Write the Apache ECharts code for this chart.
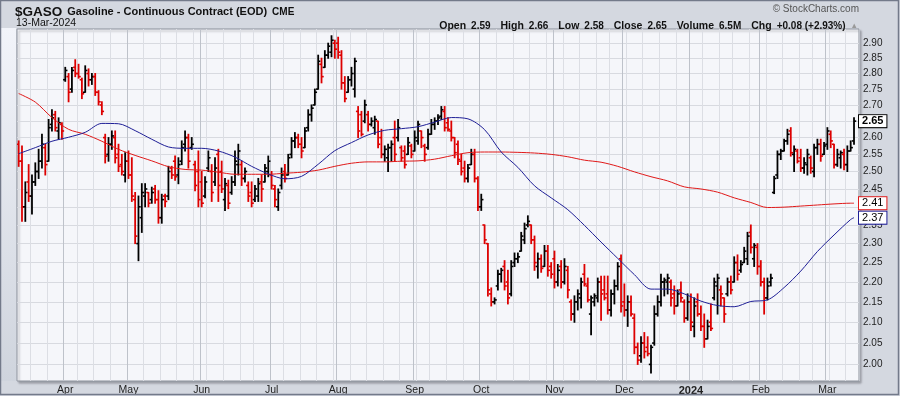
<!DOCTYPE html>
<html><head><meta charset="utf-8">
<script src="https://cdn.jsdelivr.net/npm/echarts@6/dist/echarts.min.js"></script>
<style>html,body{margin:0;padding:0;background:#d4d8e0;}#chart{width:900px;height:396px;}</style>
</head><body><div id="chart"></div>
<script>
// ---------- data ----------
const startDate = '2023-03-14', endDate = '2024-03-13';
const holidays = ['2023-04-07','2023-05-29','2023-06-19','2023-07-04','2023-09-04','2023-11-23','2023-12-25','2024-01-01','2024-01-15','2024-02-19'];

const opens = [2.58,2.53,2.40,2.47,2.43,2.47,2.50,2.53,2.57,2.53,
2.64,2.67,2.62,2.64,2.78,2.79,2.75,2.82,2.80,2.78,
2.74,2.80,2.78,2.79,2.74,2.70,2.60,2.55,2.58,2.60,
2.55,2.52,2.49,2.53,2.49,2.42,2.30,2.37,2.43,2.44,
2.42,2.45,2.42,2.37,2.43,2.43,2.51,2.53,2.49,2.53,
2.58,2.60,2.57,2.52,2.50,2.47,2.43,2.51,2.50,2.47,
2.55,2.50,2.42,2.46,2.44,2.47,2.52,2.52,2.48,2.46,
2.44,2.42,2.43,2.47,2.47,2.50,2.49,2.45,2.40,2.46,
2.50,2.49,2.55,2.59,2.60,2.58,2.57,2.63,2.67,2.70,
2.75,2.83,2.82,2.86,2.87,2.90,2.90,2.86,2.77,2.74,
2.78,2.75,2.68,2.67,2.65,2.67,2.64,2.63,2.65,2.60,
2.55,2.54,2.57,2.60,2.60,2.57,2.56,2.55,2.575,2.56,
2.59,2.62,2.575,2.57,2.61,2.64,2.65,2.665,2.68,2.645,
2.62,2.60,2.58,2.53,2.51,2.48,2.52,2.55,2.48,2.40,
2.35,2.30,2.17,2.15,2.19,2.22,2.24,2.20,2.17,2.25,
2.26,2.28,2.31,2.35,2.35,2.31,2.24,2.26,2.24,2.28,
2.24,2.26,2.20,2.24,2.20,2.23,2.15,2.12,2.15,2.16,
2.22,2.19,2.12,2.15,2.16,2.20,2.18,2.17,2.13,2.17,
2.19,2.26,2.15,2.13,2.15,2.11,2.04,2.02,2.05,2.04,
2.00,2.05,2.12,2.15,2.20,2.20,2.20,2.17,2.14,2.18,
2.15,2.11,2.15,2.09,2.15,2.12,2.09,2.06,2.10,2.16,
2.19,2.18,2.16,2.17,2.20,2.20,2.25,2.23,2.25,2.26,
2.33,2.26,2.29,2.24,2.20,2.16,2.20,2.44,2.49,2.55,
2.56,2.59,2.62,2.55,2.56,2.54,2.51,2.52,2.54,2.50,
2.57,2.58,2.55,2.58,2.61,2.58,2.52,2.54,2.55,2.52,
2.56,2.59];

const highs = [2.59,2.575,2.47,2.52,2.49,2.525,2.565,2.61,2.58,2.655,
2.685,2.68,2.66,2.645,2.82,2.80,2.82,2.845,2.83,2.785,
2.825,2.815,2.80,2.80,2.745,2.71,2.61,2.60,2.62,2.62,
2.58,2.55,2.555,2.56,2.54,2.44,2.43,2.465,2.465,2.44,
2.455,2.46,2.445,2.435,2.435,2.515,2.515,2.545,2.54,2.59,
2.62,2.61,2.60,2.53,2.56,2.50,2.485,2.56,2.52,2.54,
2.565,2.53,2.48,2.475,2.485,2.56,2.58,2.53,2.51,2.47,
2.47,2.46,2.48,2.49,2.52,2.545,2.50,2.46,2.45,2.51,
2.52,2.55,2.60,2.615,2.61,2.60,2.63,2.685,2.70,2.75,
2.86,2.85,2.875,2.90,2.925,2.91,2.92,2.875,2.79,2.79,
2.82,2.85,2.695,2.68,2.715,2.68,2.66,2.665,2.65,2.625,
2.575,2.58,2.59,2.65,2.655,2.575,2.575,2.60,2.58,2.62,
2.65,2.62,2.58,2.625,2.655,2.66,2.67,2.695,2.695,2.66,
2.65,2.60,2.59,2.55,2.53,2.52,2.565,2.565,2.485,2.435,
2.35,2.30,2.185,2.16,2.23,2.235,2.255,2.23,2.255,2.275,
2.275,2.33,2.355,2.375,2.35,2.32,2.275,2.27,2.295,2.295,
2.25,2.28,2.245,2.255,2.26,2.24,2.155,2.165,2.18,2.21,
2.245,2.21,2.165,2.17,2.21,2.215,2.215,2.215,2.18,2.205,
2.25,2.27,2.195,2.165,2.165,2.12,2.05,2.065,2.075,2.065,
2.045,2.14,2.165,2.22,2.21,2.22,2.205,2.19,2.18,2.20,
2.155,2.17,2.17,2.16,2.17,2.14,2.12,2.105,2.145,2.21,
2.22,2.19,2.16,2.21,2.215,2.265,2.27,2.255,2.29,2.33,
2.35,2.30,2.30,2.255,2.21,2.21,2.22,2.486,2.56,2.565,
2.595,2.625,2.63,2.575,2.565,2.565,2.54,2.565,2.545,2.58,
2.595,2.595,2.585,2.63,2.62,2.58,2.565,2.56,2.565,2.575,
2.59,2.66];

const lows = [2.515,2.36,2.36,2.415,2.38,2.46,2.48,2.51,2.49,2.53,
2.62,2.62,2.595,2.595,2.775,2.71,2.74,2.79,2.785,2.72,
2.74,2.76,2.765,2.73,2.70,2.67,2.525,2.53,2.565,2.525,
2.50,2.49,2.47,2.48,2.415,2.30,2.255,2.33,2.40,2.40,
2.41,2.41,2.355,2.355,2.40,2.42,2.48,2.475,2.465,2.52,
2.56,2.51,2.565,2.445,2.40,2.40,2.425,2.50,2.415,2.46,
2.415,2.44,2.39,2.395,2.435,2.46,2.49,2.46,2.47,2.415,
2.40,2.415,2.415,2.415,2.47,2.485,2.45,2.40,2.39,2.45,
2.47,2.49,2.54,2.57,2.57,2.54,2.57,2.62,2.65,2.70,
2.75,2.77,2.82,2.85,2.855,2.85,2.85,2.75,2.71,2.74,
2.76,2.725,2.60,2.605,2.645,2.62,2.635,2.61,2.57,2.54,
2.53,2.50,2.53,2.53,2.59,2.53,2.51,2.55,2.54,2.56,
2.58,2.57,2.53,2.565,2.61,2.625,2.64,2.655,2.62,2.62,
2.59,2.54,2.52,2.49,2.47,2.47,2.52,2.47,2.39,2.39,
2.30,2.165,2.14,2.145,2.18,2.20,2.18,2.145,2.165,2.24,
2.25,2.28,2.30,2.345,2.30,2.23,2.21,2.225,2.24,2.215,
2.21,2.185,2.19,2.185,2.195,2.16,2.105,2.10,2.13,2.135,
2.19,2.15,2.07,2.14,2.15,2.105,2.155,2.12,2.115,2.145,
2.18,2.125,2.115,2.09,2.115,2.025,2.00,2.005,2.015,2.02,
1.98,2.045,2.115,2.14,2.165,2.17,2.14,2.12,2.14,2.15,
2.10,2.105,2.08,2.065,2.115,2.08,2.04,2.06,2.08,2.155,
2.12,2.14,2.10,2.165,2.17,2.20,2.205,2.225,2.25,2.245,
2.275,2.24,2.22,2.19,2.12,2.155,2.19,2.437,2.48,2.535,
2.56,2.58,2.545,2.50,2.525,2.50,2.495,2.49,2.495,2.485,
2.55,2.53,2.55,2.565,2.57,2.51,2.515,2.51,2.505,2.50,
2.56,2.58];

const closes = [2.53,2.40,2.44,2.43,2.47,2.50,2.53,2.58,2.52,2.63,
2.66,2.63,2.645,2.62,2.81,2.74,2.81,2.80,2.79,2.735,
2.81,2.78,2.79,2.74,2.71,2.68,2.545,2.58,2.605,2.54,
2.515,2.50,2.53,2.49,2.43,2.32,2.40,2.44,2.45,2.41,
2.44,2.42,2.37,2.42,2.415,2.50,2.49,2.485,2.52,2.57,
2.60,2.53,2.58,2.46,2.42,2.41,2.47,2.54,2.44,2.51,
2.46,2.45,2.465,2.41,2.47,2.53,2.56,2.48,2.50,2.43,
2.41,2.45,2.465,2.45,2.51,2.53,2.46,2.42,2.44,2.49,
2.48,2.54,2.59,2.60,2.58,2.56,2.62,2.67,2.69,2.74,
2.84,2.79,2.86,2.89,2.91,2.88,2.87,2.77,2.72,2.78,
2.80,2.84,2.62,2.61,2.70,2.64,2.65,2.655,2.58,2.55,
2.565,2.57,2.58,2.55,2.63,2.54,2.52,2.585,2.55,2.60,
2.64,2.60,2.55,2.61,2.64,2.65,2.66,2.685,2.63,2.625,
2.60,2.555,2.535,2.50,2.48,2.51,2.55,2.48,2.40,2.42,
2.31,2.18,2.15,2.155,2.22,2.23,2.19,2.16,2.24,2.26,
2.265,2.32,2.34,2.36,2.31,2.25,2.26,2.235,2.28,2.23,
2.22,2.20,2.23,2.20,2.24,2.18,2.12,2.15,2.17,2.20,
2.195,2.155,2.16,2.165,2.20,2.17,2.16,2.13,2.17,2.19,
2.24,2.14,2.13,2.15,2.12,2.04,2.01,2.05,2.03,2.025,
2.04,2.12,2.15,2.20,2.205,2.21,2.16,2.14,2.17,2.16,
2.11,2.15,2.10,2.14,2.12,2.09,2.06,2.09,2.085,2.20,
2.21,2.17,2.12,2.20,2.18,2.25,2.22,2.245,2.28,2.32,
2.29,2.295,2.24,2.20,2.16,2.19,2.21,2.48,2.55,2.56,
2.59,2.61,2.555,2.565,2.53,2.51,2.525,2.55,2.51,2.57,
2.58,2.545,2.575,2.62,2.59,2.52,2.55,2.555,2.52,2.56,
2.57,2.65];

// moving averages read every 5th bar (bar 0,5,...,250) plus the last bar
const maSampleIdx = [0,5,10,15,20,25,30,35,40,45,50,55,60,65,70,75,80,85,90,95,100,105,110,115,120,125,130,135,140,145,150,155,160,165,170,175,180,185,190,195,200,205,210,215,220,225,230,235,240,245,250,251];
const ma50 = [2.552,2.570,2.589,2.601,2.616,2.643,2.642,2.621,2.595,2.572,2.568,2.568,2.560,2.542,2.515,2.493,2.479,2.486,2.521,2.561,2.585,2.608,2.622,2.627,2.633,2.647,2.661,2.657,2.624,2.557,2.512,2.459,2.425,2.392,2.349,2.304,2.261,2.219,2.182,2.182,2.170,2.152,2.141,2.138,2.151,2.155,2.186,2.228,2.279,2.323,2.365,2.370];
const ma200 = [2.736,2.709,2.661,2.625,2.610,2.589,2.565,2.547,2.531,2.514,2.506,2.504,2.498,2.492,2.492,2.492,2.495,2.498,2.504,2.515,2.524,2.528,2.528,2.530,2.531,2.536,2.546,2.555,2.557,2.557,2.556,2.554,2.550,2.543,2.533,2.527,2.515,2.499,2.485,2.473,2.456,2.450,2.441,2.425,2.412,2.398,2.399,2.402,2.405,2.408,2.410,2.410];

const yTicks = [2.00,2.05,2.10,2.15,2.20,2.25,2.30,2.35,2.40,2.45,2.50,2.55,2.60,2.65,2.70,2.75,2.80,2.85,2.90];
const monthNames = ['Jan','Feb','Mar','Apr','May','Jun','Jul','Aug','Sep','Oct','Nov','Dec'];
const headerStats = [['Open','2.59'],['High','2.66'],['Low','2.58'],['Close','2.65'],['Volume','6.5M'],['Chg','+0.08 (+2.93%)']];

// ---------- build ----------
function tradingDays(s, e, hol) {
  const out = [];
  const d = new Date(s + 'T00:00:00Z'), end = new Date(e + 'T00:00:00Z');
  while (d <= end) {
    const wd = d.getUTCDay(), iso = d.toISOString().slice(0, 10);
    if (wd !== 0 && wd !== 6 && hol.indexOf(iso) < 0) out.push(iso);
    d.setUTCDate(d.getUTCDate() + 1);
  }
  return out;
}
const dates = tradingDays(startDate, endDate, holidays);
const N = Math.min(dates.length, closes.length);
const cats = dates.slice(0, N).concat(['']); // one empty slot of right padding
const dow = s => new Date(s + 'T00:00:00Z').getUTCDay();
const monthStart = cats.map((d, i) => i > 0 && d !== '' && d.slice(5, 7) !== cats[i - 1].slice(5, 7));
const weekStart = cats.map((d, i) => i > 0 && d !== '' && dow(d) < dow(cats[i - 1]));

const barColors = [];
for (let i = 0; i < N; i++) {
  const prev = i === 0 ? opens[0] : closes[i - 1];
  barColors.push(closes[i] >= prev ? '#000000' : '#dd0000');
}
const ohlc = [];
for (let i = 0; i < N; i++) ohlc.push([i, opens[i], highs[i], lows[i], closes[i]]);

function sparse(vals) {
  const arr = new Array(N).fill(null);
  maSampleIdx.forEach((idx, k) => { if (idx < N) arr[idx] = vals[k]; });
  return arr;
}

const FONT = 'Liberation Sans, Arial, sans-serif';
let headerText = headerStats.map(p => '{l|' + p[0] + '} {v|' + p[1] + '}').join('  ') + ' {t|▲}';

const chart = echarts.init(document.getElementById('chart'), null, { renderer: 'canvas' });
const tagBase = { show: true, distance: 5, backgroundColor: '#ffffff', borderWidth: 1, padding: [1, 3, 0, 3], fontSize: 11, fontFamily: FONT, color: '#000' };

chart.setOption({
  animation: false,
  backgroundColor: '#d4d8e0',
  textStyle: { fontFamily: FONT },
  title: [
    { left: 15, top: 3, padding: 0, text: '{a|$GASO} {b|Gasoline - Continuous Contract (EOD)} {c|CME}',
      textStyle: { rich: {
        a: { fontFamily: FONT, fontWeight: 'bold', fontSize: 13.5, color: '#111' },
        b: { fontFamily: FONT, fontSize: 11, color: '#111' },
        c: { fontFamily: FONT, fontSize: 10, color: '#111' } } } },
    { left: 16, top: 18, padding: 0, text: '13-Mar-2024', textStyle: { fontFamily: FONT, fontSize: 10.5, fontWeight: 'normal', color: '#111' } },
    { right: 41, top: 4, padding: 0, text: '© StockCharts.com', textStyle: { fontFamily: FONT, fontSize: 10, fontWeight: 'normal', color: '#555' } },
    { right: 42, top: 17, padding: 0, text: headerText,
      textStyle: { rich: {
        l: { fontFamily: FONT, fontWeight: 'bold', fontSize: 10.5, color: '#111' },
        v: { fontFamily: FONT, fontSize: 10, color: '#111' },
        t: { fontFamily: FONT, fontSize: 7.5, color: '#999' } } } }
  ],
  graphic: [
    { type: 'rect', z: -10, shape: { x: 1, y: 28, width: 15, height: 353 },
      style: { fill: new echarts.graphic.LinearGradient(0, 0, 0, 1, [{ offset: 0, color: '#f2f4fa' }, { offset: 1, color: '#cfd4dd' }]) } },
    { type: 'rect', z: 100, shape: { x: 0.5, y: 0.5, width: 898, height: 394 }, style: { fill: 'none', stroke: '#737a8a', lineWidth: 1.5 } }
  ],
  grid: { left: 17, right: 41, top: 29, bottom: 15, show: true, backgroundColor: '#f5f6fa',
    borderColor: '#8d939d', borderWidth: 1, shadowColor: 'rgba(60,60,70,0.35)', shadowBlur: 2, shadowOffsetX: 2, shadowOffsetY: 2 },
  xAxis: [
    { type: 'category', data: cats, boundaryGap: true,
      axisLine: { show: false }, axisTick: { show: false },
      axisLabel: { interval: (i) => monthStart[i], margin: 4, fontSize: 10.5, color: '#222', fontFamily: FONT,
        formatter: (v) => { if (!v) return ''; const m = +v.slice(5, 7); return m === 1 ? '{y|' + v.slice(0, 4) + '}' : monthNames[m - 1]; },
        rich: { y: { fontWeight: 'bold', fontSize: 11, color: '#222', fontFamily: FONT } } },
      splitLine: { show: true, interval: (i) => weekStart[i] && !monthStart[i], lineStyle: { color: '#dcdee4', width: 1 } } },
    { type: 'category', data: cats, boundaryGap: true, position: 'bottom',
      axisLine: { show: false }, axisTick: { show: false }, axisLabel: { show: false },
      splitLine: { show: true, interval: (i) => monthStart[i], lineStyle: { color: '#bec2ca', width: 1 } } }
  ],
  yAxis: {
    type: 'log', logBase: 10, min: 1.962, max: 2.948, position: 'right',
    axisLine: { show: false }, axisTick: { show: false, customValues: yTicks },
    axisLabel: { customValues: yTicks, formatter: (v) => Number(v).toFixed(2), color: '#222', fontSize: 10, margin: 4, fontFamily: FONT },
    splitLine: { show: true, lineStyle: { color: '#d8dae0', width: 1 } }
  },
  series: [
    { type: 'custom', name: 'GASO', xAxisIndex: 0, data: ohlc, encode: { x: 0, y: [1, 2, 3, 4] }, z: 2, clip: true,
      renderItem: function (params, api) {
        const i = api.value(0);
        const pO = api.coord([i, api.value(1)]);
        const pH = api.coord([i, api.value(2)]);
        const pL = api.coord([i, api.value(3)]);
        const pC = api.coord([i, api.value(4)]);
        const col = barColors[i];
        const x = pH[0];
        const t = 2.2;
        return { type: 'group', children: [
          { type: 'line', shape: { x1: x, y1: pH[1] - 0.5, x2: x, y2: pL[1] + 0.5 }, style: { stroke: col, lineWidth: 1.8 } },
          { type: 'line', shape: { x1: x - t, y1: pO[1], x2: x, y2: pO[1] }, style: { stroke: col, lineWidth: 1.6 } },
          { type: 'line', shape: { x1: x, y1: pC[1], x2: x + t, y2: pC[1] }, style: { stroke: col, lineWidth: 1.6 } }
        ] };
      } },
    { type: 'line', name: 'MA200', data: sparse(ma200), connectNulls: true, symbol: 'none', smooth: 0.3, z: 4,
      lineStyle: { color: '#e01818', width: 1 },
      endLabel: Object.assign({}, tagBase, { borderColor: '#e01818', formatter: p => Number(p.value).toFixed(2) }) },
    { type: 'line', name: 'MA50', data: sparse(ma50), connectNulls: true, symbol: 'none', smooth: 0.3, z: 4,
      lineStyle: { color: '#1e1e96', width: 1 },
      endLabel: Object.assign({}, tagBase, { borderColor: '#1e1e96', formatter: p => Number(p.value).toFixed(2) }) },
    { type: 'line', name: 'Close', data: closes.slice(0, N), symbol: 'none', silent: true, z: 5,
      lineStyle: { opacity: 0, width: 0 },
      endLabel: Object.assign({}, tagBase, { borderColor: '#000', fontWeight: 'bold', formatter: p => Number(p.value).toFixed(2) }) }
  ]
});
</script></body></html>
